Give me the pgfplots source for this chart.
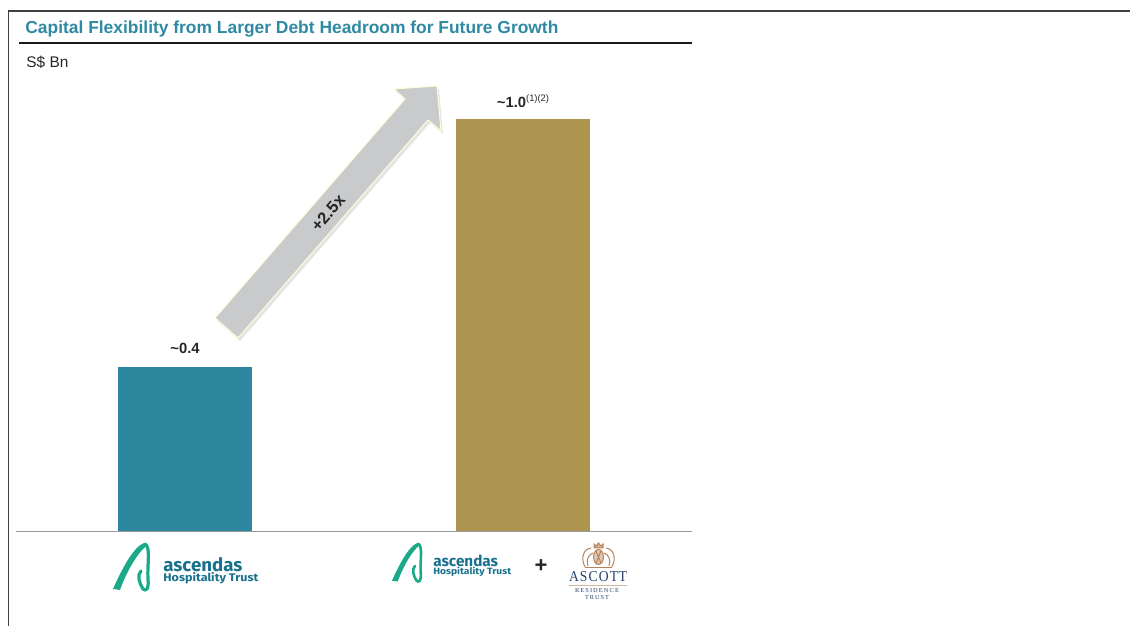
\documentclass[border=0pt]{standalone}
\usepackage{fontspec}
\setmainfont{Liberation Sans}
\newfontfamily\logofont{Fira Sans}
\newfontfamily\ascottfont{Liberation Serif}
\usepackage{pgfplots}
\pgfplotsset{compat=1.18}
\definecolor{titleteal}{HTML}{2E8AA2}
\definecolor{barteal}{HTML}{2C879E}
\definecolor{bargold}{HTML}{AD9550}
\definecolor{arrowgray}{HTML}{C9CACC}
\definecolor{ahtgreen}{HTML}{1AAA8A}
\definecolor{ahtblue}{HTML}{17708C}
\definecolor{copper}{HTML}{B5835A}
\definecolor{navy}{HTML}{24406A}

% #1,#2 origin (px), #3 scale, #4 stroke width
\newcommand\ahtlogo[4]{%
\begin{scope}[shift={(#1,#2)},scale=#3,every node/.style={transform shape}]
 \fill[ahtgreen] (0,46) .. controls (8,28) and (20,4) .. (31,0)
   -- (35,2) .. controls (25,8) and (13,30) .. (7,47) -- cycle;
 \draw[ahtgreen,line width=#4,line cap=round,line join=round]
   (32,1) .. controls (38,4) and (34,22) .. (35,36)
   .. controls (36,46) and (33,49) .. (30,46)
   .. controls (26,40) and (24,32) .. (28,28);
 \node[anchor=base west,inner sep=0,text=ahtblue] at (50,29)
   {\resizebox{39.5pt}{7pt}{\logofont\bfseries ascendas}};
 \node[anchor=base west,inner sep=0,text=ahtblue] at (50,39)
   {\resizebox{47.5pt}{4.5pt}{\logofont\bfseries Hospitality Trust}};
\end{scope}}

\begin{document}
\begin{tikzpicture}
\path[use as bounding box] (0,0) rectangle (565pt,313pt);

\begin{axis}[at={(8pt,47.25pt)}, anchor=south west, scale only axis,
  width=338pt, height=247.3pt,
  xmin=-0.5, xmax=1.5, ymin=0, ymax=1.2,
  axis lines=none, ticks=none,
  ybar, bar width=67pt, bar shift=0pt, clip=false]
\addplot[fill=barteal, draw=none] coordinates {(0,0.4)};
\addplot[fill=bargold, draw=none] coordinates {(1,1.0)};
\draw[color=black!40, line width=0.8pt] (axis cs:-0.5,0) -- (axis cs:1.5,0);
\node[anchor=base, inner sep=0, yshift=6.5pt, text=black!85,
  font=\bfseries\fontsize{7.4}{8}\selectfont] at (axis cs:0,0.4) {\textasciitilde 0.4};
\node[anchor=base, inner sep=0, yshift=6pt, text=black!85,
  font=\bfseries\fontsize{7.4}{8}\selectfont] at (axis cs:1,1.0)
  {\textasciitilde 1.0\raisebox{3pt}{\mdseries\fontsize{4.7}{5}\selectfont (1)(2)}};
\end{axis}

\begin{scope}[yshift=313pt, x=0.5pt, y=-0.5pt]
 % frame
 \draw[black!75, line width=0.6pt] (8.3,626) -- (8.3,11) -- (1130,11);
 % title
 \node[anchor=base west, inner sep=0, text=titleteal] at (25,33.3)
   {\resizebox{266.5pt}{6.3pt}{\bfseries Capital Flexibility from Larger Debt Headroom for Future Growth}};
 \draw[black!90, line width=1pt] (19,42.7) -- (692,42.7);
 % unit
 \node[anchor=base west, inner sep=0, text=black!85,
   font=\fontsize{7.7}{9}\selectfont] at (26,67.7) {S\$ Bn};
 % growth arrow
 \fill[black!30, opacity=0.35] (217,321) -- (407,102) -- (396,92) -- (439,89) -- (443,134) -- (430,123) -- (240,341) -- cycle;
 \filldraw[fill=arrowgray, draw=white!85!yellow, line width=0.5pt]
   (215,318) -- (405,99) -- (394,89) -- (437,86) -- (441,131) -- (428,120) -- (238,338) -- cycle;
 \node[rotate=49, inner sep=0, text=black!85,
   font=\bfseries\fontsize{8.3}{9}\selectfont] at (328,213) {+2.5x};
 % logos
 \ahtlogo{113}{543}{1}{1.6pt}
 \ahtlogo{392}{543}{0.82}{1.3pt}
 \node[inner sep=0, font=\bfseries\fontsize{11}{12}\selectfont, text=black!85] at (541,566) {+};
 % Ascott crest
 \begin{scope}[copper, line width=0.5pt]
  \filldraw[fill=copper!45] (598.5,557) ellipse (5 and 7.5);
  \draw (596,551) -- (601,563) (601,551) -- (596,563);
  \filldraw[fill=copper!60] (594,548) -- (594,544) -- (596,546) -- (598.5,543) -- (601,546) -- (603,544) -- (603,548) -- cycle;
  \draw (585,567) .. controls (580,557) and (584,549) .. (591,548);
  \draw (612,567) .. controls (617,557) and (613,549) .. (606,548);
  \draw (588,566) .. controls (586,560) and (588,555) .. (593,553);
  \draw (609,566) .. controls (611,560) and (609,555) .. (604,553);
  \draw (585,568) -- (612,568);
 \end{scope}
 \node[anchor=base, inner sep=0, text=navy] at (598,582)
   {\resizebox{29pt}{5pt}{\ascottfont A\kern0.08em S\kern0.08em C\kern0.08em O\kern0.08em T\kern0.04em T}};
 \draw[copper!60, line width=0.5pt] (569,586) -- (627,586);
 \node[anchor=base, inner sep=0, text=navy] at (597,593)
   {\resizebox{22pt}{2pt}{\ascottfont R\,E\,S\,I\,D\,E\,N\,C\,E}};
 \node[anchor=base, inner sep=0, text=navy] at (597,600)
   {\resizebox{12pt}{2pt}{\ascottfont T\,R\,U\,S\,T}};
\end{scope}
\end{tikzpicture}
\end{document}
